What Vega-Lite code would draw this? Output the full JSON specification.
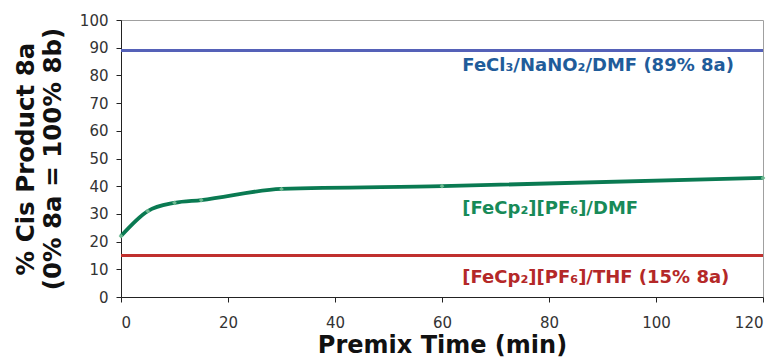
{
  "$schema": "https://vega.github.io/schema/vega-lite/v6.json",
  "autosize": "none",
  "width": 642,
  "height": 277,
  "padding": {"left": 121, "top": 20, "right": 18, "bottom": 65},
  "background": "white",
  "config": {
    "view": {"stroke": "#a0a0a0", "strokeWidth": 1},
    "axis": {
      "grid": false,
      "domainColor": "#222",
      "tickColor": "#222",
      "tickSize": 5,
      "labelFont": "DejaVu Sans",
      "labelFontSize": 15,
      "labelColor": "#333",
      "titleFont": "DejaVu Sans",
      "titleFontWeight": "bold",
      "titleColor": "#111"
    }
  },
  "datasets": {
    "curve": [
      {"t": 0, "v": 22},
      {"t": 5, "v": 31},
      {"t": 10, "v": 34},
      {"t": 15, "v": 35},
      {"t": 30, "v": 39},
      {"t": 60, "v": 40},
      {"t": 120, "v": 43}
    ],
    "refs": [
      {"series": "FeCl3", "t": 0, "v": 89},
      {"series": "FeCl3", "t": 120, "v": 89},
      {"series": "THF", "t": 0, "v": 15},
      {"series": "THF", "t": 120, "v": 15}
    ],
    "labels": [
      {"label": "FeCl₃/NaNO₂/DMF (89% 8a)", "t": 63.8, "v": 83.3, "c": "#1f5c9a"},
      {"label": "[FeCp₂][PF₆]/DMF", "t": 63.8, "v": 31.6, "c": "#188a58"},
      {"label": "[FeCp₂][PF₆]/THF (15% 8a)", "t": 63.8, "v": 7.0, "c": "#b42828"}
    ]
  },
  "encoding": {
    "x": {
      "field": "t", "type": "quantitative",
      "scale": {"domain": [0, 120], "nice": false},
      "axis": {"values": [0, 20, 40, 60, 80, 100, 120], "title": "Premix Time (min)", "titleFontSize": 24, "titlePadding": 3, "labelPadding": 13}
    },
    "y": {
      "field": "v", "type": "quantitative",
      "scale": {"domain": [0, 100], "nice": false},
      "axis": {"values": [0, 10, 20, 30, 40, 50, 60, 70, 80, 90, 100], "title": ["% Cis Product 8a", "(0% 8a = 100% 8b)"], "titleFontSize": 24.5, "labelPadding": 8, "titlePadding": 14, "titleLineHeight": 27}
    }
  },
  "layer": [
    {
      "data": {"name": "refs"},
      "mark": {"type": "line", "strokeWidth": 3, "clip": false},
      "encoding": {
        "detail": {"field": "series"},
        "color": {"field": "series", "type": "nominal", "scale": {"domain": ["FeCl3", "THF"], "range": ["#5561b8", "#c0302e"]}, "legend": null}
      }
    },
    {
      "data": {"name": "curve"},
      "mark": {"type": "line", "interpolate": "monotone", "strokeWidth": 3.8, "color": "#0a7a52", "clip": false}
    },
    {
      "data": {"name": "curve"},
      "mark": {"type": "point", "shape": "diamond", "filled": true, "size": 22, "color": "#6cb890", "opacity": 1, "clip": false}
    },
    {
      "data": {"name": "labels"},
      "mark": {"type": "text", "align": "left", "baseline": "middle", "font": "DejaVu Sans", "fontWeight": "bold", "fontSize": 18},
      "encoding": {
        "text": {"field": "label"},
        "color": {"field": "c", "type": "nominal", "scale": null}
      }
    }
  ]
}
